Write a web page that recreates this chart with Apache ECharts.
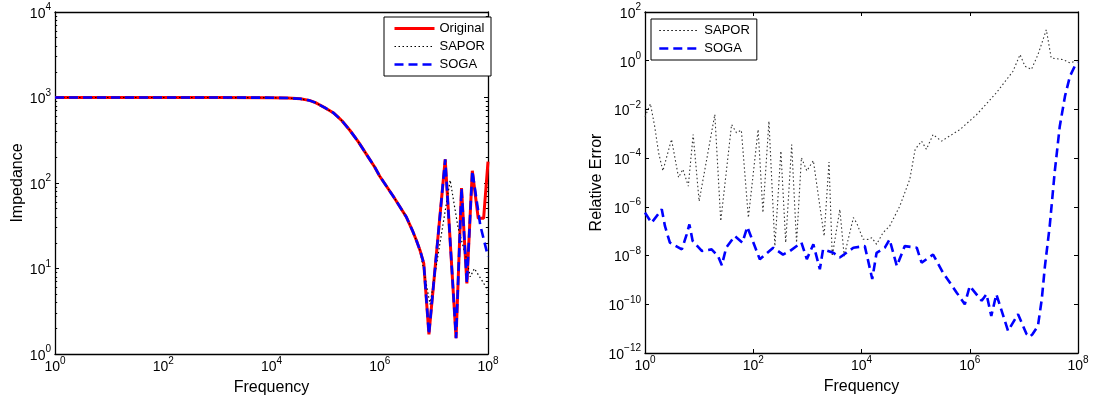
<!DOCTYPE html>
<html><head><meta charset="utf-8">
<script src="https://cdn.jsdelivr.net/npm/echarts@6/dist/echarts.min.js"></script>
<style>html,body{margin:0;padding:0;background:#fff}#c{width:1096px;height:404px}</style>
</head><body><div id="c"></div>
<script>
// ---- data (frequency, value) ----
const impOriginal = [[1,1000],[10,1000],[100,1000],[1e3,1000],[1e4,995],[2e4,985],[3.4e4,965],[5e4,925],[6.5e4,870],[8e4,811],[1e5,750],[1.2e5,700],[1.4e5,660],[1.7e5,590],[2e5,535],[2.8e5,414],[4e5,305],[5.8e5,212],[8e5,155],[1e6,120],[1.8e6,69],[3.1e6,40],[4e6,28],[4.8e6,21],[5.6e6,16],[6.5e6,11.5],[8.1e6,1.7],[1.62e7,189],[2.57e7,1.53],[3.24e7,87],[4.07e7,6.7],[5.13e7,139],[6.6e7,38.6],[8.3e7,38.6],[1e8,178]];
const impSapor = [[1,1000],[10,1000],[100,1000],[1e3,1000],[1e4,995],[2e4,985],[3.4e4,965],[5e4,925],[6.5e4,870],[8e4,811],[1e5,750],[1.2e5,700],[1.4e5,660],[1.7e5,590],[2e5,535],[2.8e5,414],[4e5,305],[5.8e5,212],[8e5,155],[1e6,120],[1.8e6,69],[3.1e6,40],[4e6,28],[4.8e6,21],[5.6e6,16],[7.1e6,7],[8.5e6,3.8],[2e7,108],[2.8e7,30],[4e7,13],[4.7e7,8],[5.6e7,10],[8e7,7],[1e8,5.5]];
const impSoga = [[1,1000],[10,1000],[100,1000],[1e3,1000],[1e4,995],[2e4,985],[3.4e4,965],[5e4,925],[6.5e4,870],[8e4,811],[1e5,750],[1.2e5,700],[1.4e5,660],[1.7e5,590],[2e5,535],[2.8e5,414],[4e5,305],[5.8e5,212],[8e5,155],[1e6,120],[1.8e6,69],[3.1e6,40],[4e6,28],[4.8e6,21],[5.6e6,16],[6.5e6,11.5],[8.1e6,1.7],[1.62e7,189],[2.57e7,1.53],[3.24e7,87],[4.07e7,6.7],[5.13e7,139],[7.2e7,32],[1e8,13.8]];
const errSapor = [[1,5e-3],[1.26,1.7e-2],[1.51,2e-3],[1.78,1.7e-4],[2.14,3e-5],[3.09,5.9e-4],[4.17,1.6e-5],[5.01,3.5e-5],[6.31,7.1e-6],[7.76,9.3e-4],[10,1.7e-6],[19.5,6.2e-3],[25.1,2.6e-7],[39.8,2.4e-3],[49,1.1e-3],[60.3,1.4e-3],[81.3,3.6e-7],[123,1.5e-3],[151,5.8e-7],[195,3.3e-3],[251,2.45e-8],[324,1.95e-4],[398,3.4e-8],[513,3.6e-4],[631,3.4e-8],[776,1.05e-4],[977,3e-5],[1290,7.9e-5],[2040,6.3e-8],[2510,6.9e-5],[2880,9.5e-9],[3980,7.9e-7],[4790,9.5e-9],[7080,3.6e-7],[8130,2.2e-7],[1.07e4,4.7e-8],[1.32e4,4.6e-8],[1.55e4,5.4e-8],[1.9e4,2.9e-8],[2.5e4,8.7e-8],[3.3e4,1.6e-7],[5.1e4,1.07e-6],[7.8e4,1.35e-5],[9.8e4,2.3e-4],[1.29e5,5e-4],[1.58e5,2.3e-4],[2.1e5,9.3e-4],[3e5,5e-4],[6.6e5,1.5e-3],[1.35e6,6.2e-3],[3.1e6,0.048],[6.3e6,0.37],[8.5e6,1.78],[1.05e7,0.59],[1.38e7,0.44],[1.82e7,1.78],[2.6e7,18.6],[3.2e7,1.29],[5.4e7,1.1],[7.1e7,0.81],[9.3e7,1.0]];
const errSoga = [[1,5.8e-7],[1.32,2.2e-7],[2.04,7.9e-7],[2.34,1.6e-7],[2.88,3.4e-8],[4.79,1.8e-8],[5.89,7.4e-8],[6.61,1.9e-7],[7.59,4e-8],[11.2,1.55e-8],[17,1.8e-8],[22.4,9.5e-9],[26.3,4e-9],[31.6,2.1e-8],[45.7,6.3e-8],[63.1,3.4e-8],[77.6,1.5e-7],[132,7.1e-9],[234,2.1e-8],[355,1.1e-8],[479,1.55e-8],[776,3.4e-8],[977,7.1e-9],[1290,2.9e-8],[1700,2.75e-9],[1950,1.8e-8],[3020,1.3e-8],[3980,8.3e-9],[7080,2.1e-8],[1.15e4,2.45e-8],[1.58e4,1.1e-9],[1.9e4,1.3e-8],[2.7e4,2.1e-8],[3.3e4,4.6e-8],[4.5e4,3.7e-9],[6.3e4,2.45e-8],[1.05e5,2.1e-8],[1.29e5,5.1e-9],[2.1e5,1.1e-8],[3.2e5,2e-9],[5.75e5,3e-10],[8.1e5,1e-10],[1e6,5.6e-10],[1.66e6,1.4e-10],[2.04e6,2.6e-10],[2.5e6,3.3e-11],[3.1e6,2.6e-10],[5.1e6,8.1e-12],[7.8e6,3.9e-11],[1.12e7,6e-12],[1.29e7,4.6e-12],[1.45e7,6e-12],[1.82e7,1.3e-11],[2.14e7,1.6e-10],[2.45e7,3.7e-9],[3e7,1.6e-7],[3.7e7,2.5e-5],[4.6e7,2e-3],[5.75e7,0.035],[7.1e7,0.23],[8.7e7,0.59],[1e8,0.85]];

// ---- ticks ----
const freqTicks = [1e0, 1e2, 1e4, 1e6, 1e8];
const impTicks = [1e0, 1e1, 1e2, 1e3, 1e4];
const impMinorTicks = [2,3,4,5,6,7,8,9,20,30,40,50,60,70,80,90,200,300,400,500,600,700,800,900,2000,3000,4000,5000,6000,7000,8000,9000];
const errTicks = [1e-12, 1e-10, 1e-8, 1e-6, 1e-4, 1e-2, 1e0, 1e2];

const F = '"Liberation Sans", Arial, Helvetica, sans-serif';
function expLabel(v) {
  const e = Math.round(Math.log10(v));
  const s = e < 0 ? '\u2212' + (-e) : String(e);
  return '{b|10}{s|' + s + '}';
}
const rich = {
  b: {fontSize: 14, fontFamily: F, color: '#000', padding: [4, 0, 0, 0]},
  s: {fontSize: 10, fontFamily: F, color: '#000', padding: [0, 0, 9, 0]}
};
const lineAx = {show: true, onZero: false, lineStyle: {color: '#000', width: 1.3}};
const nameStyle = {fontSize: 16, fontFamily: F, color: '#000'};

function xAx(grid, pos, min, max, labels, ticks, withName) {
  return {
    gridIndex: grid, type: 'log', logBase: 10, min: min, max: max, position: pos,
    axisLine: lineAx,
    axisTick: {show: !!ticks, inside: true, length: 4, customValues: ticks || labels, lineStyle: {color: '#000', width: 1}},
    axisLabel: {show: withName, customValues: labels, formatter: expLabel, rich: rich, margin: 2},
    splitLine: {show: false}, minorTick: {show: false},
    name: withName ? 'Frequency' : '', nameLocation: 'middle', nameGap: 26, nameTextStyle: nameStyle
  };
}
function yAx(grid, pos, min, max, ticks, len, showLine, labels, name, gap) {
  return {
    gridIndex: grid, type: 'log', logBase: 10, min: min, max: max, position: pos,
    axisLine: showLine ? lineAx : {show: false, onZero: false},
    axisTick: {show: true, inside: true, length: len, customValues: ticks, lineStyle: {color: '#000', width: 1}},
    axisLabel: {show: !!labels, customValues: labels || ticks, formatter: expLabel, rich: rich, margin: 4},
    splitLine: {show: false}, minorTick: {show: false},
    name: name || '', nameLocation: 'middle', nameGap: gap || 30, nameTextStyle: nameStyle
  };
}

const chart = echarts.init(document.getElementById('c'), null, {renderer: 'canvas'});
chart.setOption({
  animation: false,
  backgroundColor: '#fff',
  grid: [
    {left: 55, top: 12, width: 433, height: 342},
    {left: 645, top: 12, width: 433, height: 341}
  ],
  xAxis: [
    xAx(0, 'bottom', 1, 1e8, freqTicks, null, true),
    xAx(0, 'top', 1, 1e8, freqTicks, null, false),
    xAx(1, 'bottom', 1, 1e8, freqTicks, freqTicks, true),
    xAx(1, 'top', 1, 1e8, freqTicks, freqTicks, false)
  ],
  yAxis: [
    yAx(0, 'left', 1, 1e4, impTicks, 4, true, impTicks, 'Impedance', 29),
    yAx(0, 'left', 1, 1e4, impMinorTicks, 2.2, false),
    yAx(0, 'right', 1, 1e4, impTicks, 4, true),
    yAx(0, 'right', 1, 1e4, impMinorTicks, 2.2, false),
    yAx(1, 'left', 1e-12, 1e2, errTicks, 4, true, errTicks, 'Relative Error', 39),
    yAx(1, 'right', 1e-12, 1e2, errTicks, 4, true)
  ],
  legend: [
    {
      data: ['Original', 'SAPOR', 'SOGA'], orient: 'vertical', left: 384, top: 17,
      padding: [5, 6, 5, 9], itemWidth: 40, itemHeight: 14, itemGap: 5,
      backgroundColor: '#fff', borderColor: '#000', borderWidth: 1, borderRadius: 0,
      textStyle: {fontSize: 13, fontFamily: F, color: '#000'},
      itemStyle: {opacity: 0}, lineStyle: {width: 'inherit'}, selectedMode: false
    },
    {
      data: ['SAPOR', 'SOGA'], orient: 'vertical', left: 651, top: 19,
      padding: [5, 7, 5, 7], itemWidth: 40, itemHeight: 14, itemGap: 5,
      backgroundColor: '#fff', borderColor: '#000', borderWidth: 1, borderRadius: 0,
      textStyle: {fontSize: 13, fontFamily: F, color: '#000'},
      itemStyle: {opacity: 0}, lineStyle: {width: 'inherit'}, selectedMode: false
    }
  ],
  series: [
    {name: 'Original', type: 'line', xAxisIndex: 0, yAxisIndex: 0, data: impOriginal, symbol: 'none', color: '#ff0000',
     lineStyle: {color: '#ff0000', width: 3}},
    {name: 'SAPOR', type: 'line', xAxisIndex: 0, yAxisIndex: 0, data: impSapor, symbol: 'none', color: '#000',
     lineStyle: {color: '#000', width: 1.2, type: [1.5, 2.5]}},
    {name: 'SOGA', type: 'line', xAxisIndex: 0, yAxisIndex: 0, data: impSoga, symbol: 'none', color: '#0000ff',
     lineStyle: {color: '#0000ff', width: 2.6, type: [9, 5]}},
    {name: 'SAPOR', type: 'line', xAxisIndex: 2, yAxisIndex: 4, data: errSapor, symbol: 'none', color: '#000',
     lineStyle: {color: '#333', width: 1.1, type: [1.5, 2.5]}},
    {name: 'SOGA', type: 'line', xAxisIndex: 2, yAxisIndex: 4, data: errSoga, symbol: 'none', color: '#0000ff',
     lineStyle: {color: '#0000ff', width: 2.6, type: [9, 5]}}
  ]
});
</script></body></html>
